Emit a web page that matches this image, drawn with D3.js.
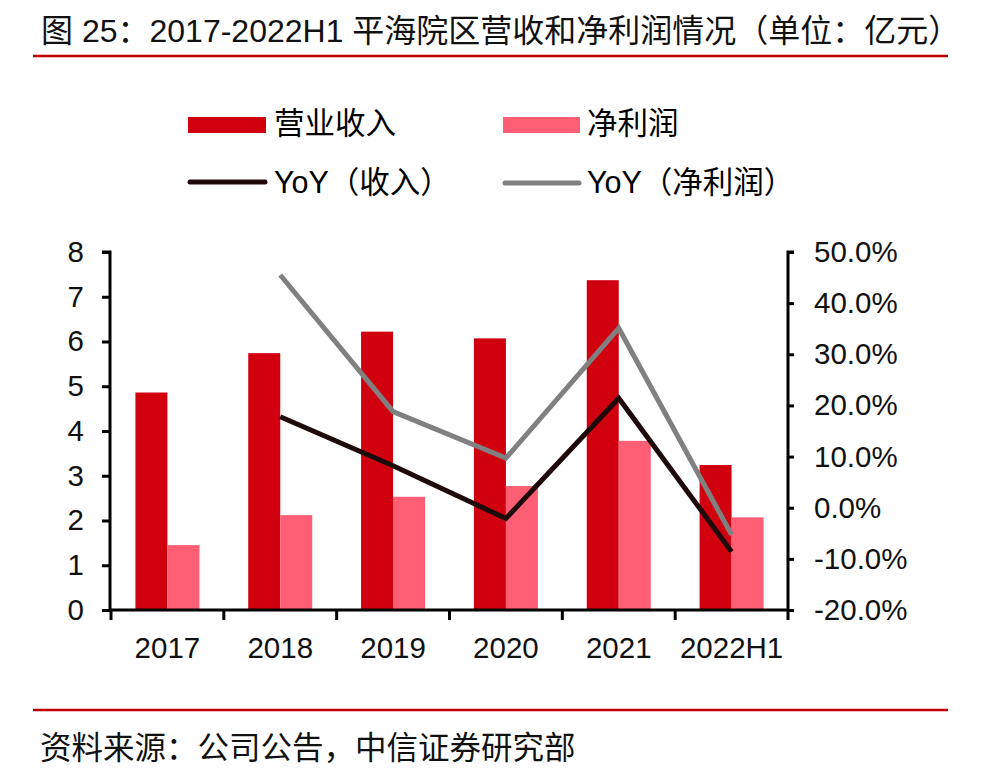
<!DOCTYPE html>
<html><head><meta charset="utf-8">
<script src="https://cdn.jsdelivr.net/npm/d3@7"></script>
<style>
body{margin:0;background:#fff;}
text{font-family:"Liberation Sans","Noto Sans CJK SC",sans-serif;}
</style></head>
<body>
<svg id="c" width="1000" height="783"></svg>
<script>
const categories = ["2017","2018","2019","2020","2021","2022H1"];
const revenue = [4.86, 5.74, 6.22, 6.07, 7.37, 3.24];
const netProfit = [1.45, 2.12, 2.53, 2.77, 3.78, 2.07];
const yoyRevenue = [null, 17.8, 8.2, -2.1, 21.4, -8.6];
const yoyProfit = [null, 45.5, 18.8, 9.7, 35.1, -5.3];
const leftTicks = [0,1,2,3,4,5,6,7,8];
const rightTicks = [-20,-10,0,10,20,30,40,50];

const svg = d3.select("#c");
const cRev = "#D0000E", cProfit = "#FF5E74", cYoyRev = "#1E0A0A", cYoyProfit = "#808080";

const x0 = d3.scaleBand().domain(categories).range([111, 788]);
const yL = d3.scaleLinear().domain([0, 8]).range([610, 252]);
const yR = d3.scaleLinear().domain([-20, 50]).range([610, 252]);
const barW = 32;

// Title
svg.append("text").attr("x", 41).attr("y", 42).attr("font-size", 32).attr("fill", "#111")
  .text("图 25：2017-2022H1 平海院区营收和净利润情况（单位：亿元）");
svg.append("line").attr("x1", 33).attr("x2", 948).attr("y1", 56).attr("y2", 56)
  .attr("stroke", "#C00000").attr("stroke-width", 2.5);

// Legend
const lg = svg.append("g");
const lfs = 30.5;
lg.append("rect").attr("x", 188).attr("y", 117).attr("width", 78).attr("height", 16).attr("fill", cRev);
lg.append("text").attr("x", 274).attr("y", 134).attr("font-size", lfs).text("营业收入");
lg.append("rect").attr("x", 503).attr("y", 117).attr("width", 77).attr("height", 16).attr("fill", cProfit);
lg.append("text").attr("x", 587).attr("y", 134).attr("font-size", lfs).text("净利润");
lg.append("line").attr("x1", 190).attr("x2", 265).attr("y1", 182).attr("y2", 182)
  .attr("stroke", cYoyRev).attr("stroke-width", 5).attr("stroke-linecap", "round");
lg.append("text").attr("x", 274).attr("y", 193).attr("font-size", lfs).text("YoY（收入）");
lg.append("line").attr("x1", 505).attr("x2", 579).attr("y1", 183).attr("y2", 183)
  .attr("stroke", cYoyProfit).attr("stroke-width", 5).attr("stroke-linecap", "round");
lg.append("text").attr("x", 587).attr("y", 193).attr("font-size", lfs).text("YoY（净利润）");

// Bars
const gB = svg.append("g");
categories.forEach((c, i) => {
  const cx = x0(c) + x0.bandwidth() / 2;
  gB.append("rect").attr("x", cx - barW).attr("width", barW)
    .attr("y", yL(revenue[i])).attr("height", yL(0) - yL(revenue[i])).attr("fill", cRev);
  gB.append("rect").attr("x", cx).attr("width", barW)
    .attr("y", yL(netProfit[i])).attr("height", yL(0) - yL(netProfit[i])).attr("fill", cProfit);
});

// Lines
const cxOf = c => x0(c) + x0.bandwidth() / 2;
const line = d3.line().defined(d => d.v != null).x(d => cxOf(d.c)).y(d => yR(d.v));
svg.append("path").datum(categories.map((c, i) => ({c, v: yoyProfit[i]})))
  .attr("d", line).attr("fill", "none").attr("stroke", cYoyProfit).attr("stroke-width", 5);
svg.append("path").datum(categories.map((c, i) => ({c, v: yoyRevenue[i]})))
  .attr("d", line).attr("fill", "none").attr("stroke", cYoyRev).attr("stroke-width", 5);

// Axes
const axL = svg.append("g").attr("transform", "translate(110,0)")
  .call(d3.axisLeft(yL).tickValues(leftTicks).tickFormat(d3.format("d")).tickSize(8).tickPadding(18));
const axR = svg.append("g").attr("transform", "translate(788,0)")
  .call(d3.axisRight(yR).tickValues(rightTicks).tickFormat(d => d.toFixed(1) + "%").tickSize(6).tickPadding(20));
const axX = svg.append("g").attr("transform", "translate(0,610)")
  .call(d3.axisBottom(x0).tickSize(0).tickPadding(27));
// band boundary ticks on x-axis
const bounds = categories.map(c => x0(c)).concat([x0.range()[1]]);
svg.append("g").selectAll("line").data(bounds).join("line")
  .attr("x1", d => d).attr("x2", d => d).attr("y1", 610).attr("y2", 620)
  .attr("stroke", "#000").attr("stroke-width", 3);

[axL, axR, axX].forEach(a => {
  a.selectAll(".domain").attr("stroke", "#000").attr("stroke-width", 3);
  a.selectAll(".tick line").attr("stroke", "#000").attr("stroke-width", 3);
  a.selectAll("text").attr("font-size", 29.5).attr("fill", "#111")
    .style("font-family", "'Liberation Sans', sans-serif");
});
axL.select(".domain").attr("d", "M-8,252H0V610");
axR.select(".domain").attr("d", "M6,252H0V610");
axX.select(".domain").attr("d", "M110,0H788");

// Footer
svg.append("line").attr("x1", 33).attr("x2", 948).attr("y1", 710).attr("y2", 710)
  .attr("stroke", "#C00000").attr("stroke-width", 2.5);
svg.append("text").attr("x", 40).attr("y", 759).attr("font-size", 31.5).attr("fill", "#111")
  .text("资料来源：公司公告，中信证券研究部");
</script>
</body></html>
